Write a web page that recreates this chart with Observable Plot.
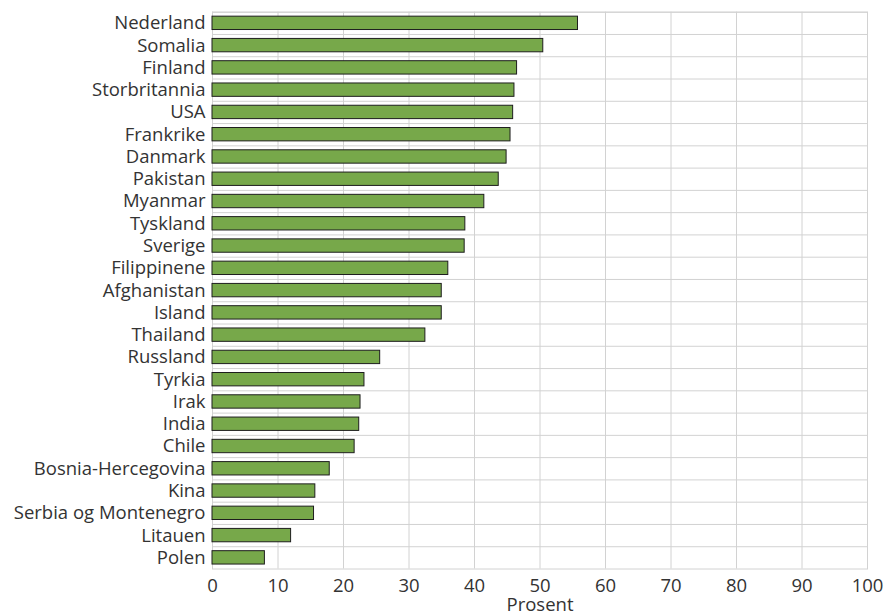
<!DOCTYPE html>
<html>
<head>
<meta charset="utf-8">
<script src="https://cdn.jsdelivr.net/npm/d3@7"></script>
<script src="https://cdn.jsdelivr.net/npm/@observablehq/plot@0.6"></script>
<style>
  html, body { margin: 0; padding: 0; background: #fff; }
</style>
</head>
<body>
<div id="chart"></div>
<script>
const countries = [
  "Nederland", "Somalia", "Finland", "Storbritannia", "USA", "Frankrike",
  "Danmark", "Pakistan", "Myanmar", "Tyskland", "Sverige", "Filippinene",
  "Afghanistan", "Island", "Thailand", "Russland", "Tyrkia", "Irak", "India",
  "Chile", "Bosnia-Hercegovina", "Kina", "Serbia og Montenegro", "Litauen", "Polen"
];
const values = [
  55.8, 50.5, 46.5, 46.1, 45.9, 45.5,
  44.9, 43.7, 41.5, 38.6, 38.5, 36.0,
  35.0, 35.0, 32.5, 25.6, 23.2, 22.6, 22.4,
  21.7, 17.9, 15.7, 15.5, 12.0, 8.0
];
const xTicks = [0, 10, 20, 30, 40, 50, 60, 70, 80, 90, 100];
const xLabel = "Prosent";

const data = countries.map((c, i) => ({ country: c, value: values[i] }));

const W = 885, H = 612;
const mTop = 11.7, mBottom = 43.5, mLeft = 212, mRight = 18;
const step = (H - mTop - mBottom) / countries.length;
const gridColor = "#d2d2d2";
const fs = 18.5;

const chart = Plot.plot({
  width: W,
  height: H,
  marginTop: mTop,
  marginBottom: mBottom,
  marginLeft: mLeft,
  marginRight: mRight,
  style: { fontFamily: "'Open Sans', sans-serif", fontSize: fs + "px", color: "#333", background: "#fff" },
  x: { domain: [0, 100], ticks: xTicks, label: null },
  y: { domain: countries, paddingInner: 0.4, paddingOuter: 0.2, round: false, label: null },
  marks: [
    Plot.gridX(xTicks, { stroke: gridColor, strokeOpacity: 1, strokeWidth: 1 }),
    Plot.ruleY(countries, { y: d => d, dy: -step / 2, stroke: gridColor, strokeWidth: 1 }),
    Plot.frame({ stroke: gridColor, strokeWidth: 1 }),
    Plot.barX(data, { x: "value", y: "country", fill: "#77a84a", stroke: "#1e1e1e", strokeWidth: 1 }),
    Plot.axisY({ tickSize: 0, tickPadding: 7, fontSize: fs, fill: "#333", label: null }),
    Plot.axisX(xTicks, { tickSize: 0, tickPadding: 10, fontSize: fs, fill: "#333", label: null }),
    Plot.text([xLabel], { frameAnchor: "bottom", lineAnchor: "top", dy: 29, text: d => d, fontSize: fs, fill: "#333" })
  ]
});
document.getElementById("chart").appendChild(chart);
</script>
</body>
</html>
